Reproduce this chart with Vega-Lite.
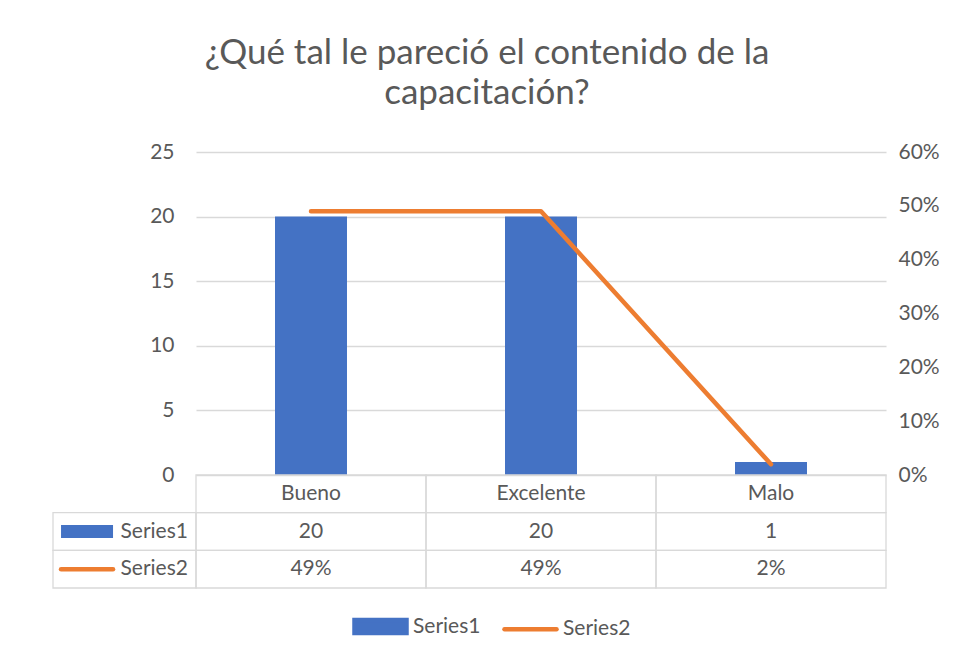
{
  "$schema": "https://vega.github.io/schema/vega-lite/v6.json",
  "width": 690,
  "height": 436,
  "autosize": {"type": "none"},
  "padding": {"left": 196, "top": 152, "right": 69, "bottom": 69},
  "background": "white",
  "config": {
    "view": {"stroke": null},
    "font": "Lato",
    "text": {"font": "Lato", "fontSize": 21, "color": "#595959", "baseline": "middle"}
  },
  "title": {
    "text": ["¿Qué tal le pareció el contenido de la", "capacitación?"],
    "font": "Lato",
    "fontSize": 35,
    "fontWeight": "normal",
    "color": "#595959",
    "lineHeight": 40,
    "anchor": "middle",
    "dx": -54,
    "offset": 30
  },
  "datasets": {
    "survey": [
      {"categoria": "Bueno", "Series1": 20, "Series2": 0.49},
      {"categoria": "Excelente", "Series1": 20, "Series2": 0.49},
      {"categoria": "Malo", "Series1": 1, "Series2": 0.02}
    ],
    "series": [
      {"serie": "Series1"},
      {"serie": "Series2"}
    ]
  },
  "resolve": {"scale": {"x": "independent", "y": "independent"}},
  "layer": [
    {
      "data": {"name": "survey"},
      "resolve": {"scale": {"y": "independent"}},
      "encoding": {
        "x": {
          "field": "categoria",
          "type": "nominal",
          "sort": null,
          "scale": {"type": "band", "domain": ["Bueno", "Excelente", "Malo"], "paddingInner": 0, "paddingOuter": 0},
          "axis": null
        }
      },
      "layer": [
        {
          "mark": {"type": "bar", "width": {"band": 0.313}},
          "encoding": {
            "y": {
              "field": "Series1",
              "type": "quantitative",
              "scale": {"domain": [0, 25], "range": [323, 0], "nice": false},
              "axis": {
                "orient": "left",
                "values": [0, 5, 10, 15, 20, 25],
                "grid": true,
                "gridColor": "#d9d9d9",
                "gridWidth": 1.3,
                "domain": false,
                "ticks": false,
                "labelPadding": 22,
                "labelFont": "Lato",
                "labelFontSize": 21,
                "labelColor": "#595959",
                "title": null
              }
            },
            "color": {
              "datum": "Series1",
              "type": "nominal",
              "scale": {"domain": ["Series1", "Series2"], "range": ["#4472C4", "#ED7D31"]},
              "legend": {
                "orient": "none",
                "legendX": 156,
                "legendY": 446,
                "direction": "horizontal",
                "title": null,
                "padding": 0,
                "symbolSize": 2704,
                "symbolType": "M-1,-0.25H1V0.25H-1Z",
                "labelFont": "Lato",
                "labelFontSize": 21,
                "labelColor": "#595959",
                "labelOffset": 4,
                "columnPadding": 14,
                "encode": {
                  "symbols": {
                    "update": {
                      "shape": {"signal": "datum.value === 'Series1' ? 'M-1,-0.25H1V0.25H-1Z' : 'M-1,0H1'"},
                      "fill": {"signal": "datum.value === 'Series1' ? '#4472C4' : 'transparent'"},
                      "stroke": {"signal": "datum.value === 'Series1' ? 'transparent' : '#ED7D31'"},
                      "strokeWidth": {"value": 4.5},
                      "strokeCap": {"value": "round"},
                      "opacity": {"value": 1}
                    }
                  }
                }
              }
            }
          }
        },
        {
          "mark": {"type": "line", "strokeWidth": 4.5, "strokeCap": "round", "strokeJoin": "round"},
          "encoding": {
            "y": {
              "field": "Series2",
              "type": "quantitative",
              "scale": {"domain": [0, 0.6], "range": [323, 0], "nice": false},
              "axis": {
                "orient": "right",
                "values": [0, 0.1, 0.2, 0.3, 0.4, 0.5, 0.6],
                "format": ".0%",
                "grid": false,
                "domain": false,
                "ticks": false,
                "labelPadding": 12,
                "labelFont": "Lato",
                "labelFontSize": 21,
                "labelColor": "#595959",
                "title": null
              }
            },
            "color": {"datum": "Series2", "type": "nominal"}
          }
        },
        {
          "mark": {"type": "rect", "filled": false, "color": "#d9d9d9", "strokeWidth": 1.3},
          "encoding": {
            "y": {"datum": "header", "type": "nominal", "scale": {"type": "band", "domain": ["header", "Series1", "Series2"], "range": [323, 436], "paddingInner": 0, "paddingOuter": 0}, "axis": null}
          }
        },
        {
          "mark": {"type": "rect", "filled": false, "color": "#d9d9d9", "strokeWidth": 1.3},
          "encoding": {
            "y": {"datum": "Series1", "type": "nominal", "scale": {"type": "band", "domain": ["header", "Series1", "Series2"], "range": [323, 436], "paddingInner": 0, "paddingOuter": 0}, "axis": null}
          }
        },
        {
          "mark": {"type": "rect", "filled": false, "color": "#d9d9d9", "strokeWidth": 1.3},
          "encoding": {
            "y": {"datum": "Series2", "type": "nominal", "scale": {"type": "band", "domain": ["header", "Series1", "Series2"], "range": [323, 436], "paddingInner": 0, "paddingOuter": 0}, "axis": null}
          }
        },
        {
          "mark": {"type": "text"},
          "encoding": {
            "y": {"datum": "header", "type": "nominal", "scale": {"type": "band", "domain": ["header", "Series1", "Series2"], "range": [323, 436], "paddingInner": 0, "paddingOuter": 0}, "axis": null},
            "text": {"field": "categoria", "type": "nominal"}
          }
        },
        {
          "mark": {"type": "text"},
          "encoding": {
            "y": {"datum": "Series1", "type": "nominal", "scale": {"type": "band", "domain": ["header", "Series1", "Series2"], "range": [323, 436], "paddingInner": 0, "paddingOuter": 0}, "axis": null},
            "text": {"field": "Series1", "type": "quantitative"}
          }
        },
        {
          "mark": {"type": "text"},
          "encoding": {
            "y": {"datum": "Series2", "type": "nominal", "scale": {"type": "band", "domain": ["header", "Series1", "Series2"], "range": [323, 436], "paddingInner": 0, "paddingOuter": 0}, "axis": null},
            "text": {"field": "Series2", "type": "quantitative", "format": ".0%"}
          }
        }
      ]
    },
    {
      "data": {"name": "series"},
      "encoding": {
        "x": {
          "datum": "col",
          "type": "nominal",
          "scale": {"type": "band", "domain": ["col"], "range": [-143, 0], "paddingInner": 0, "paddingOuter": 0},
          "axis": null
        },
        "y": {
          "field": "serie",
          "type": "nominal",
          "scale": {"type": "band", "domain": ["header", "Series1", "Series2"], "range": [323, 436], "paddingInner": 0, "paddingOuter": 0},
          "axis": null
        }
      },
      "layer": [
        {
          "mark": {"type": "rect", "filled": false, "color": "#d9d9d9", "strokeWidth": 1.3}
        },
        {
          "mark": {"type": "text", "align": "right"},
          "encoding": {
            "x": {"datum": "col", "type": "nominal", "bandPosition": 0.944},
            "text": {"field": "serie", "type": "nominal"}
          }
        },
        {
          "transform": [{"filter": "datum.serie === 'Series1'"}],
          "mark": {"type": "point", "filled": true, "color": "#4472C4", "opacity": 1, "size": 2704, "shape": "M-1,-0.25H1V0.25H-1Z", "strokeWidth": 0},
          "encoding": {
            "x": {"datum": "col", "type": "nominal", "bandPosition": 0.238}
          }
        },
        {
          "transform": [{"filter": "datum.serie === 'Series2'"}],
          "mark": {"type": "point", "filled": false, "color": "#ED7D31", "opacity": 1, "size": 2704, "shape": "M-1,0H1", "strokeWidth": 4.5, "strokeCap": "round"},
          "encoding": {
            "x": {"datum": "col", "type": "nominal", "bandPosition": 0.238}
          }
        }
      ]
    }
  ]
}
